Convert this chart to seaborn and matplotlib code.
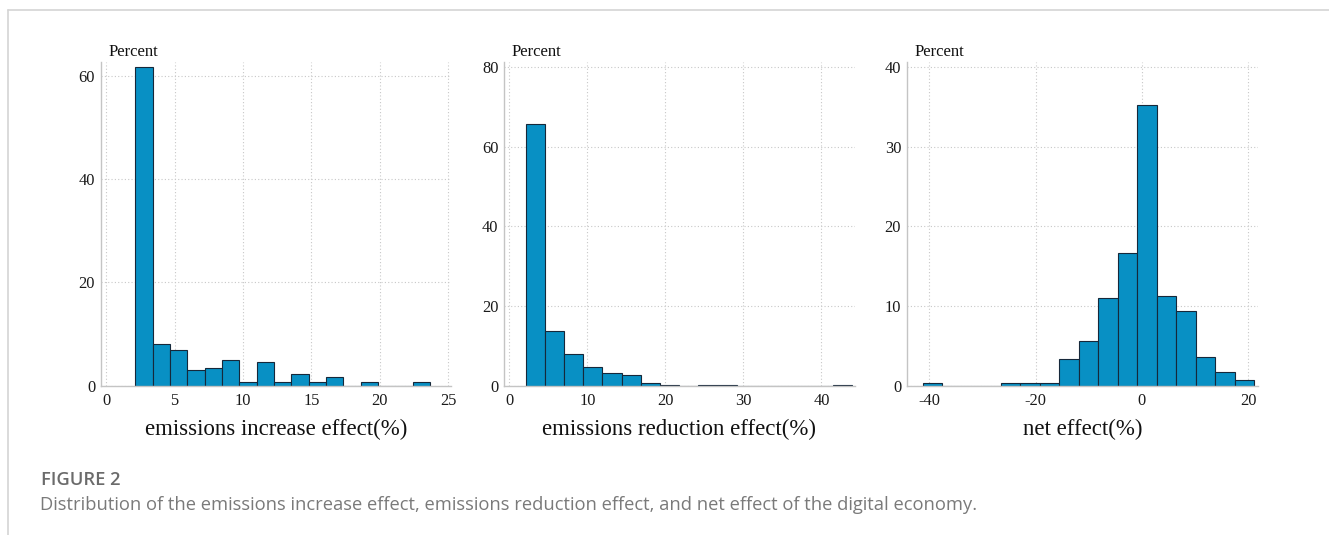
import numpy as np
import pandas as pd
import matplotlib
matplotlib.use("Agg")
import matplotlib.pyplot as plt
import seaborn as sns

# -------------------------
# Données
# -------------------------
# panneau 1 : effet d'augmentation des émissions
inc_lo, inc_hi = 2.12, 23.68
inc_pct = [61.6, 8.0, 7.0, 3.0, 3.35, 5.0, 0.7, 4.65, 0.7, 2.3, 0.7, 1.7, 0.0, 0.7, 0.0, 0.0, 0.7]

# panneau 2 : effet de réduction des émissions
red_lo, red_hi = 2.09, 43.9
red_pct = [65.7, 13.65, 7.95, 4.6, 3.27, 2.68, 0.67, 0.3, 0.0, 0.2, 0.2, 0.0, 0.0, 0.0, 0.0, 0.0, 0.3]

# panneau 3 : effet net
net_lo, net_hi = -41.25, 21.15
net_pct = [0.33, 0.0, 0.0, 0.0, 0.33, 0.33, 0.33, 3.35, 5.65, 11.0, 16.67, 35.3, 11.3, 9.34, 3.64, 1.68, 0.71]

labels = ["emissions increase effect(%)", "emissions reduction effect(%)", "net effect(%)"]
xticks = [[0, 5, 10, 15, 20, 25], [0, 10, 20, 30, 40], [-40, -20, 0, 20]]
yticks = [[0, 20, 40, 60], [0, 20, 40, 60, 80], [0, 10, 20, 30, 40]]
xlims = [(-0.4, 25.2), (-0.68, 44.3), (-44.25, 21.9)]
ylims = [(0, 62.7), (0, 81.4), (0, 40.7)]

sns.set_style("white")
plt.rcParams["font.family"] = ["Liberation Serif", "DejaVu Serif"]
plt.rcParams["axes.unicode_minus"] = False

W, H = 1329, 535
fig = plt.figure(figsize=(W / 100, H / 100), dpi=100)

# positions des axes en pixels (gauche, droite, haut, bas)
boxes = [(100.7, 451, 61.7, 385.7), (504, 855, 61.7, 385.7), (906.7, 1258.3, 61.7, 385.7)]

bar_color = "#0890c4"
edge_color = "#16283a"
axis_gray = "#c4c4c4"

series = [(inc_lo, inc_hi, inc_pct), (red_lo, red_hi, red_pct), (net_lo, net_hi, net_pct)]

for i, (lo, hi, pct) in enumerate(series):
    l, r, t, b = boxes[i]
    ax = fig.add_axes([l / W, (H - b) / H, (r - l) / W, (b - t) / H])
    edges = np.linspace(lo, hi, len(pct) + 1)
    df = pd.DataFrame({"x": (edges[:-1] + edges[1:]) / 2, "w": pct})
    sns.histplot(data=df, x="x", weights="w", bins=list(edges), ax=ax, color=bar_color,
                 edgecolor=edge_color, linewidth=0.8, alpha=1)
    ax.set_xlim(*xlims[i])
    ax.set_ylim(*ylims[i])
    ax.set_xticks(xticks[i])
    ax.set_yticks(yticks[i])
    ax.set_axisbelow(True)
    ax.grid(True, linestyle=(0, (1, 2)), color="#c8c8c8", linewidth=0.8)
    for s in ["top", "right"]:
        ax.spines[s].set_visible(False)
    for s in ["left", "bottom"]:
        ax.spines[s].set_color(axis_gray)
        ax.spines[s].set_linewidth(1.0)
    ax.tick_params(axis="both", which="major", length=3, width=0.8, color=axis_gray,
                   labelsize=11.8, labelcolor="#1a1a1a", pad=1)
    ax.tick_params(axis="x", pad=2.5)
    ax.set_ylabel("")
    ax.set_xlabel(labels[i], fontsize=16.5, color="#111111", labelpad=7)
    ax.text(8 / (r - l), 1 + (t - 52) / (b - t), "Percent", transform=ax.transAxes,
            fontsize=12, color="#111111", ha="left", va="center")

# cadre gris (gauche et haut)
fig.add_artist(plt.Line2D([7.5 / W, 7.5 / W], [0, 1 - 9.5 / H], color="#d4d4d4", linewidth=1.2))
fig.add_artist(plt.Line2D([7.5 / W, 1], [1 - 9.5 / H, 1 - 9.5 / H], color="#d4d4d4", linewidth=1.2))

# légende de la figure
fig.text(41 / W, 1 - 480 / H, "FIGURE 2", fontsize=13.2, color="#6b6b6b", weight="semibold",
         family=["Open Sans", "DejaVu Sans"], ha="left", va="center")
fig.text(40 / W, 1 - 505 / H,
         "Distribution of the emissions increase effect, emissions reduction effect, and net effect of the digital economy.",
         fontsize=13.2, color="#7a7a7a", family=["Open Sans", "DejaVu Sans"], ha="left", va="center")

plt.savefig("out.png", dpi=100)
